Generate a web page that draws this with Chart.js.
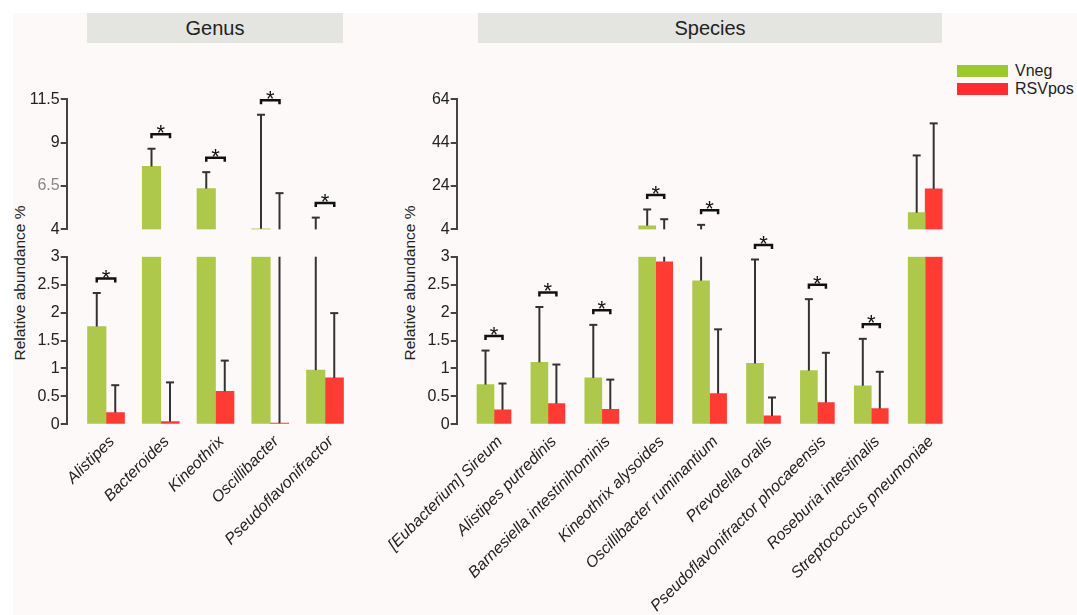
<!DOCTYPE html>
<html><head><meta charset="utf-8">
<script src="https://cdn.jsdelivr.net/npm/chart.js@4.4.0/dist/chart.umd.min.js"></script>
<style>
html,body{margin:0;padding:0;background:#fff;}
body{width:1077px;height:615px;position:relative;overflow:hidden;font-family:'Liberation Sans',Arial,sans-serif;}
#panel{position:absolute;left:13px;top:13px;width:1064px;height:602px;background:#FDF9F8;}
.strip{position:absolute;top:13px;height:30px;background:#E4E4E0;color:#222;font-size:20px;line-height:30px;text-align:center;}
canvas{position:absolute;}
.ytitle{position:absolute;font-size:15.5px;color:#222;white-space:nowrap;transform:translate(-50%,-50%) rotate(-90deg);}
.sw{position:absolute;left:957px;width:51px;height:12px;}
.lt{position:absolute;left:1015px;font-size:16px;color:#222;line-height:18px;}
</style></head>
<body>
<div id="panel"></div>
<div class="strip" style="left:87px;width:256px;">Genus</div>
<div class="strip" style="left:478px;width:464px;">Species</div>
<div class="ytitle" style="left:20px;top:283px;">Relative abundance %</div>
<div class="ytitle" style="left:410px;top:283px;">Relative abundance %</div>
<div class="sw" style="top:65px;background:#9DC82E;"></div>
<div class="lt" style="top:62px;">Vneg</div>
<div class="sw" style="top:83px;background:#FF2D2D;"></div>
<div class="lt" style="top:80px;">RSVpos</div>

<canvas id="gU" width="400" height="180" style="left:0px;top:60px;width:400px;height:180px;"></canvas>
<canvas id="gL" width="400" height="390" style="left:0px;top:225px;width:400px;height:390px;"></canvas>
<canvas id="sU" width="640" height="180" style="left:330px;top:60px;width:640px;height:180px;"></canvas>
<canvas id="sL" width="640" height="390" style="left:330px;top:225px;width:640px;height:390px;"></canvas>

<script>
// ---------- DATA ----------
const genusCats = ['Alistipes', 'Bacteroides', 'Kineothrix', 'Oscillibacter', 'Pseudoflavonifractor'];
const genusVneg = [1.75, 7.63, 6.35, 4.04, 0.97];
const genusVnegErr = [2.35, 8.65, 7.30, 10.61, 4.68];   // upper end of error bar
const genusRSV = [0.21, 0.05, 0.59, 0.02, 0.83];
const genusRSVErr = [0.70, 0.75, 1.14, 6.09, 1.99];
const genusSig = [true, true, true, true, true];

const speciesCats = ['[Eubacterium] Sireum', 'Alistipes putredinis', 'Barnesiella intestinihominis',
  'Kineothrix alysoides', 'Oscillibacter ruminantium', 'Prevotella oralis',
  'Pseudoflavonifractor phocaeensis', 'Roseburia intestinalis', 'Streptococcus pneumoniae'];
const speciesVneg = [0.71, 1.11, 0.83, 5.7, 2.57, 1.09, 0.96, 0.69, 11.7];
const speciesVnegErr = [1.32, 2.10, 1.78, 13.2, 6.1, 2.95, 2.24, 1.53, 38.1];
const speciesRSV = [0.26, 0.37, 0.27, 2.91, 0.55, 0.15, 0.39, 0.28, 22.7];
const speciesRSVErr = [0.73, 1.07, 0.80, 8.7, 1.70, 0.48, 1.28, 0.94, 52.9];
const speciesSig = [true, true, true, true, true, true, true, true, false];

const lowerTicks = [0, 0.5, 1, 1.5, 2, 2.5, 3];
const genusUpperTicks = [4, 6.5, 9, 11.5];
const speciesUpperTicks = [4, 24, 44, 64];

// ---------- STYLE ----------
const GREEN = '#AEC84B', RED = '#FF3B33';
Chart.defaults.font.family = "'Liberation Sans', Arial, sans-serif";

function makePlugin(d) {
  return {
    id: 'errs',
    afterDatasetsDraw(chart) {
      const ctx = chart.ctx, xs = chart.scales.x, ys = chart.scales.y;
      const lo = ys.min, hi = ys.max, th = d.thick;
      ctx.save();
      for (let i = 0; i < d.cats.length; i++) {
        const cx = xs.getPixelForValue(i);
        const ser = [[d.v[i], d.vErr[i], -1], [d.r[i], d.rErr[i], 1]];
        ctx.strokeStyle = '#333'; ctx.lineWidth = 2;
        for (const [m, t, side] of ser) {
          const x = cx + side * th / 2;
          if (t > lo && m < hi) {
            const y0 = ys.getPixelForValue(Math.max(m, lo));
            const y1 = ys.getPixelForValue(Math.min(t, hi));
            ctx.beginPath(); ctx.moveTo(x, y0); ctx.lineTo(x, y1); ctx.stroke();
            if (t <= hi) { ctx.beginPath(); ctx.moveTo(x - 4, y1); ctx.lineTo(x + 4, y1); ctx.stroke(); }
          }
        }
        if (d.sig[i]) {
          const tm = Math.max(d.vErr[i], d.rErr[i]);
          if (tm >= lo && tm <= hi) {
            const yb = ys.getPixelForValue(tm) - 14.5;
            const x1 = cx - th / 2, x2 = cx + th / 2;
            ctx.strokeStyle = '#111'; ctx.lineWidth = 2.5;
            ctx.beginPath(); ctx.moveTo(x1, yb + 4); ctx.lineTo(x1, yb); ctx.lineTo(x2, yb); ctx.lineTo(x2, yb + 4); ctx.stroke();
            ctx.fillStyle = '#111'; ctx.font = "22px 'Liberation Sans', Arial, sans-serif";
            ctx.textAlign = 'center'; ctx.textBaseline = 'alphabetic';
            ctx.fillText('*', cx, yb + 6);
          }
        }
      }
      ctx.restore();
    }
  };
}

function build(id, d) {
  const lo = d.ticks[0], hi = d.ticks[d.ticks.length - 1];
  const mk = (arr) => arr.map((v, i) => ({x: i, y: d.part === 'upper' ? (v > lo ? [lo, v] : null) : Math.min(v, hi)}));
  new Chart(document.getElementById(id), {
    type: 'bar',
    data: {
      datasets: [
        {label: 'Vneg', data: mk(d.v), backgroundColor: GREEN, barThickness: d.thick, clip: 0},
        {label: 'RSVpos', data: mk(d.r), backgroundColor: RED, barThickness: d.thick, clip: 0}
      ]
    },
    options: {
      responsive: false, animation: false, devicePixelRatio: 1,
      layout: {padding: {left: 0, top: d.pad[0], right: d.pad[1], bottom: d.pad[2]}},
      plugins: {legend: {display: false}, tooltip: {enabled: false}},
      scales: {
        x: {
          type: 'linear', min: d.xmin, max: d.xmax, offset: false, display: d.part === 'lower',
          afterBuildTicks: (s) => { s.ticks = d.cats.map((c, i) => ({value: i})); },
          afterFit: (s) => { if (d.part === 'lower') s.height = d.xH; },
          grid: {display: false, offset: false}, border: {display: false},
          ticks: {autoSkip: false, minRotation: 45, maxRotation: 45, padding: 0, labelOffset: 6,
            color: '#222', font: {size: 16, style: 'italic'},
            callback: (v) => d.cats[v]}
        },
        y: {
          type: 'linear', min: lo, max: hi,
          afterBuildTicks: (s) => { s.ticks = d.ticks.map(v => ({value: v})); },
          afterFit: (s) => { s.width = d.yW; },
          grid: {drawOnChartArea: false, drawTicks: true, tickLength: 6, color: '#444', lineWidth: 2},
          border: {display: true, color: '#444', width: 2},
          ticks: {padding: 1, font: {size: 16},
            color: (c) => (c.tick && c.tick.value === 6.5) ? '#888' : '#222',
            callback: (v) => String(v)}
        }
      }
    },
    plugins: [makePlugin(d)]
  });
}

const G = {cats: genusCats, v: genusVneg, vErr: genusVnegErr, r: genusRSV, rErr: genusRSVErr, sig: genusSig, thick: 18.5, xmin: -0.718, xmax: 4.493, yW: 66.7};
const S = {cats: speciesCats, v: speciesVneg, vErr: speciesVnegErr, r: speciesRSV, rErr: speciesRSVErr, sig: speciesSig, thick: 17, xmin: -0.692, xmax: 8.553, yW: 126.7};

build('gU', Object.assign({}, G, {part: 'upper', ticks: genusUpperTicks, pad: [39.3, 48, 6]}));
build('gL', Object.assign({}, G, {part: 'lower', ticks: lowerTicks, pad: [31.7, 48, 0], xH: 190.7}));
build('sU', Object.assign({}, S, {part: 'upper', ticks: speciesUpperTicks, pad: [39.3, 15, 6]}));
build('sL', Object.assign({}, S, {part: 'lower', ticks: lowerTicks, pad: [31.7, 15, 0], xH: 190.7}));
</script>
</body></html>
